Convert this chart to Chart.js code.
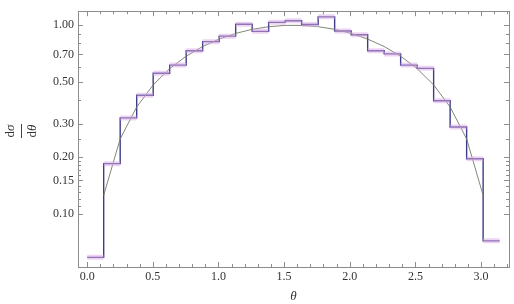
<!DOCTYPE html>
<html>
<head>
<meta charset="utf-8">
<script src="https://cdn.jsdelivr.net/npm/chart.js@4.4.1/dist/chart.umd.min.js"></script>
<style>
  html, body { margin: 0; padding: 0; background: #fff; }
  #wrap { width: 514px; height: 304px; }
</style>
</head>
<body>
<div id="wrap"><canvas id="chart"></canvas></div>
<script>
// histogram: 25 bins between 0 and pi
const binEdges = [0, 0.1257, 0.2513, 0.3770, 0.5027, 0.6283, 0.7540, 0.8796, 1.0053, 1.1310,
  1.2566, 1.3823, 1.5080, 1.6336, 1.7593, 1.8850, 2.0106, 2.1363, 2.2619, 2.3876,
  2.5133, 2.6389, 2.7646, 2.8903, 3.0159, 3.1416];
const binValues = [0.0585, 0.184, 0.322, 0.425, 0.556, 0.614, 0.732, 0.818, 0.875, 1.012,
  0.928, 1.036, 1.057, 1.008, 1.108, 0.932, 0.89, 0.732, 0.704, 0.614,
  0.59, 0.397, 0.288, 0.1955, 0.0716];

// smooth reference curve, read at the inner bin edges
const curveTheta = [0.1257, 0.2513, 0.3770, 0.5027, 0.6283, 0.7540, 0.8796, 1.0053, 1.1310, 1.2566,
  1.3823, 1.5080, 1.6336, 1.7593, 1.8850, 2.0106, 2.1363, 2.2619, 2.3876, 2.5133,
  2.6389, 2.7646, 2.8903, 3.0159];
const curveValues = [0.125, 0.249, 0.368, 0.482, 0.588, 0.685, 0.771, 0.844, 0.905, 0.951,
  0.982, 0.998, 0.998, 0.982, 0.951, 0.905, 0.844, 0.771, 0.685, 0.588,
  0.482, 0.368, 0.249, 0.125];

const xMajorTicks = [0, 0.5, 1, 1.5, 2, 2.5, 3];
const xMinorTicks = [0.1, 0.2, 0.3, 0.4, 0.6, 0.7, 0.8, 0.9, 1.1, 1.2, 1.3, 1.4, 1.6, 1.7, 1.8, 1.9,
  2.1, 2.2, 2.3, 2.4, 2.6, 2.7, 2.8, 2.9, 3.1, 3.2];
const yMajorTicks = [0.1, 0.15, 0.2, 0.3, 0.5, 0.7, 1.0];
const yMinorTicks = [0.11, 0.12, 0.13, 0.14, 0.16, 0.17, 0.18, 0.19, 0.25, 0.4, 0.6, 0.8, 0.9];

const serif = '"Liberation Serif", "DejaVu Serif", serif';

// step line: one point per edge, last value repeated to close the last bin
const stepPoints = binEdges.map((x, i) => ({ x: x, y: binValues[Math.min(i, binValues.length - 1)] }));
// error band: a short horizontal segment per bin
const bandPoints = [];
binValues.forEach((v, i) => {
  bandPoints.push({ x: binEdges[i], y: v });
  bandPoints.push({ x: binEdges[i + 1], y: v });
  bandPoints.push({ x: binEdges[i + 1], y: null });
});
const curvePoints = curveTheta.map((x, i) => ({ x: x, y: curveValues[i] }));

// frame with inward ticks on all four sides + rotated fraction label
const framePlugin = {
  id: 'frame',
  afterDraw(chart) {
    const c = chart.ctx;
    const a = chart.chartArea;
    const xs = chart.scales.x, ys = chart.scales.y;
    c.save();
    c.strokeStyle = '#8c8c8c';
    c.lineWidth = 1;
    c.strokeRect(Math.round(a.left) + 0.5, Math.round(a.top) + 0.5,
      Math.round(a.right - a.left), Math.round(a.bottom - a.top));
    c.beginPath();
    const xt = (v, len) => {
      const p = Math.round(xs.getPixelForValue(v)) + 0.5;
      c.moveTo(p, a.bottom); c.lineTo(p, a.bottom - len);
      c.moveTo(p, a.top); c.lineTo(p, a.top + len);
    };
    const yt = (v, len) => {
      const p = Math.round(ys.getPixelForValue(v)) + 0.5;
      c.moveTo(a.left, p); c.lineTo(a.left + len, p);
      c.moveTo(a.right, p); c.lineTo(a.right - len, p);
    };
    xMajorTicks.forEach(v => xt(v, 5));
    xMinorTicks.forEach(v => xt(v, 3));
    yMajorTicks.forEach(v => yt(v, 5));
    yMinorTicks.forEach(v => yt(v, 3));
    c.stroke();
    c.restore();

    // d sigma over d theta, turned to read bottom-to-top
    c.save();
    c.translate(21, 131);
    c.rotate(-Math.PI / 2);
    c.fillStyle = '#333';
    c.textAlign = 'left';
    c.textBaseline = 'alphabetic';
    const part = (d, g, baseY) => {
      c.font = '13px ' + serif;
      const w1 = c.measureText(d).width;
      c.font = 'italic 13px ' + serif;
      const w2 = c.measureText(g).width;
      const x0 = -(w1 + w2) / 2;
      c.font = '13px ' + serif;
      c.fillText(d, x0, baseY);
      c.font = 'italic 13px ' + serif;
      c.fillText(g, x0 + w1, baseY);
    };
    part('d', 'σ', -7);
    part('d', 'θ', 15);
    c.strokeStyle = '#444';
    c.lineWidth = 1;
    c.beginPath();
    c.moveTo(-7, 0.5); c.lineTo(7, 0.5);
    c.stroke();
    c.restore();
  }
};

new Chart(document.getElementById('chart'), {
  type: 'line',
  data: {
    datasets: [
      {
        data: bandPoints,
        borderColor: 'rgba(222, 170, 232, 0.5)',
        borderWidth: 5,
        pointRadius: 0,
        spanGaps: false,
        borderCapStyle: 'butt'
      },
      {
        data: curvePoints,
        borderColor: '#737a66',
        borderWidth: 0.9,
        pointRadius: 0,
        tension: 0
      },
      {
        data: stepPoints,
        borderColor: '#3e3c8a',
        borderWidth: 1.4,
        pointRadius: 0,
        stepped: 'before'
      }
    ]
  },
  options: {
    responsive: true,
    maintainAspectRatio: false,
    animation: false,
    events: [],
    layout: { padding: { top: 2, right: 5, left: 0, bottom: 0 } },
    plugins: {
      legend: { display: false },
      tooltip: { enabled: false }
    },
    scales: {
      x: {
        type: 'linear',
        min: -0.07,
        max: 3.213,
        afterFit: s => { s.height = 37; },
        afterBuildTicks: s => { s.ticks = xMajorTicks.map(v => ({ value: v })); },
        grid: { display: false, drawTicks: false },
        border: { display: false },
        ticks: {
          padding: 3,
          color: '#333',
          font: { family: serif, size: 12 },
          maxRotation: 0,
          callback: v => v.toFixed(1)
        },
        title: {
          display: true,
          text: 'θ',
          color: '#333',
          padding: { top: 2, bottom: 0 },
          font: { family: serif, size: 13, style: 'italic' }
        }
      },
      y: {
        type: 'logarithmic',
        min: 0.052,
        max: 1.187,
        afterFit: s => { s.width = 78; },
        afterBuildTicks: s => { s.ticks = yMajorTicks.map(v => ({ value: v })); },
        grid: { display: false, drawTicks: false },
        border: { display: false },
        ticks: {
          padding: 4,
          color: '#333',
          font: { family: serif, size: 12 },
          callback: v => Number(v).toFixed(2)
        }
      }
    }
  },
  plugins: [framePlugin]
});
</script>
</body>
</html>
